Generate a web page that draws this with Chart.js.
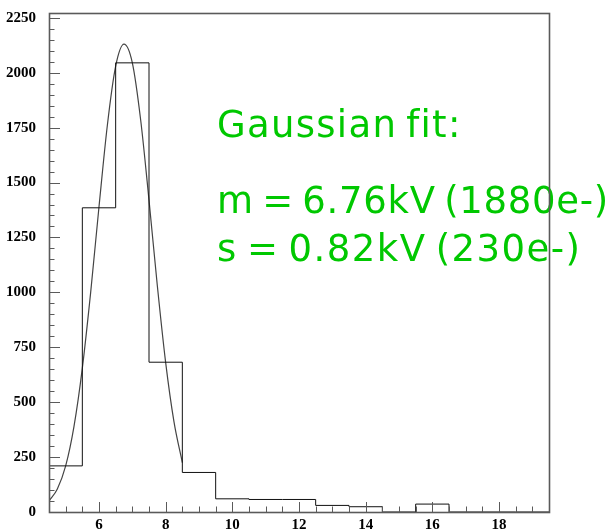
<!DOCTYPE html>
<html>
<head>
<meta charset="utf-8">
<script src="https://cdn.jsdelivr.net/npm/chart.js@4/dist/chart.umd.min.js"></script>
<style>
html,body{margin:0;padding:0;background:#fff;}
#wrap{width:610px;height:529px;position:relative;}
</style>
</head>
<body>
<div id="wrap"><canvas id="c" width="610" height="529"></canvas></div>
<script>
// Histogram bins (width 1), centres and counts
const binCenters = [5, 6, 7, 8, 9, 10, 11, 12, 13, 14, 15, 16, 17, 18, 19];
const binCounts  = [210, 1385, 2045, 682, 180, 60, 57, 57, 30, 24, 0, 36, 0, 0, 0];
// Gaussian fit curve
const fitX = [4.5, 4.75, 5.0, 5.25, 5.5, 5.75, 6.0, 6.25, 6.5, 6.75, 7.0, 7.25, 7.5, 7.75, 8.0, 8.25, 8.5];
const fitY = [50, 105, 210, 390, 655, 1000, 1390, 1760, 2030, 2130, 2045, 1785, 1420, 1030, 680, 410, 225];
// Axis ticks
const xTickLabels = [6, 8, 10, 12, 14, 16, 18];
const yTickLabels = [0, 250, 500, 750, 1000, 1250, 1500, 1750, 2000, 2250];
const annotationLines = ["Gaussian fit:", "m = 6.76kV (1880e-)", "s = 0.82kV (230e-)"];

const X_MIN = 4.5, X_MAX = 19.5, Y_MIN = 0, Y_MAX = 2272;

const histPoints = binCenters.map((c, i) => ({x: c - 0.5, y: binCounts[i]}));
histPoints.push({x: binCenters[binCenters.length - 1] + 0.5, y: 0});
const fitPoints = fitX.map((x, i) => ({x: x, y: fitY[i]}));

const frameColor = '#5a5a5a';

const overlay = {
  id: 'overlay',
  afterDatasetsDraw(chart) {
    const ctx = chart.ctx;
    const xs = chart.scales.x, ys = chart.scales.y;
    const a = chart.chartArea;
    // annotation text
    ctx.save();
    ctx.fillStyle = 'rgb(0,200,0)';
    ctx.font = '37px "DejaVu Sans"';
    ctx.textBaseline = 'alphabetic';
    ctx.textAlign = 'left';
    const bases = [136.5, 212.5, 260.5];
    const spacing = ['1.3px', '0.7px', '1.45px'];
    annotationLines.forEach((t, i) => {
      try { ctx.letterSpacing = spacing[i]; ctx.wordSpacing = '-4px'; } catch (e) {}
      ctx.fillText(t, 217, bases[i]);
    });
    ctx.restore();
    // ticks
    ctx.save();
    ctx.strokeStyle = frameColor;
    ctx.lineWidth = 1;
    ctx.beginPath();
    for (let v = 5; v <= 19.001; v += 0.5) {
      const px = Math.round(xs.getPixelForValue(v)) + 0.5;
      const major = xTickLabels.includes(v);
      ctx.moveTo(px, a.bottom);
      ctx.lineTo(px, a.bottom - (major ? 10 : 5.5));
    }
    for (let v = 50; v <= 2250; v += 50) {
      const py = Math.round(ys.getPixelForValue(v)) + 0.5;
      const major = yTickLabels.includes(v);
      ctx.moveTo(a.left, py);
      ctx.lineTo(a.left + (major ? 11 : 5.5), py);
    }
    ctx.stroke();
    // frame
    ctx.lineWidth = 1.6;
    ctx.strokeRect(a.left + 0.5, a.top + 0.5, a.right - a.left, a.bottom - a.top);
    ctx.restore();
  }
};

new Chart(document.getElementById('c'), {
  type: 'line',
  data: {
    datasets: [
      {
        label: 'hist',
        data: histPoints,
        stepped: 'before',
        borderColor: '#111',
        borderWidth: 1,
        pointRadius: 0,
        fill: false
      },
      {
        label: 'fit',
        data: fitPoints,
        cubicInterpolationMode: 'monotone',
        borderColor: '#444',
        borderWidth: 1.2,
        pointRadius: 0,
        fill: false
      }
    ]
  },
  options: {
    responsive: false,
    animation: false,
    events: [],
    layout: {padding: {left: 0, right: 61, top: 13, bottom: 0}},
    plugins: {legend: {display: false}, tooltip: {enabled: false}},
    scales: {
      x: {
        type: 'linear',
        min: X_MIN, max: X_MAX,
        afterBuildTicks(s) { s.ticks = xTickLabels.map(v => ({value: v})); },
        afterFit(s) { s.height = 17; s.paddingLeft = 0; s.paddingRight = 0; },
        grid: {display: false, drawTicks: false, tickLength: 0},
        border: {display: false},
        ticks: {
          padding: 4, maxRotation: 0, autoSkip: false,
          color: '#000',
          callback: v => String(v),
          font: {family: '"Liberation Serif"', size: 15, weight: 'bold'}
        }
      },
      y: {
        type: 'linear',
        min: Y_MIN, max: Y_MAX,
        afterBuildTicks(s) { s.ticks = yTickLabels.map(v => ({value: v})); },
        afterFit(s) { s.width = 49; s.paddingTop = 0; s.paddingBottom = 0; },
        grid: {display: false, drawTicks: false, tickLength: 0},
        border: {display: false},
        ticks: {
          padding: 13, autoSkip: false,
          color: '#000',
          callback: v => String(v),
          font: {family: '"Liberation Serif"', size: 15, weight: 'bold'}
        }
      }
    }
  },
  plugins: [overlay]
});
</script>
</body>
</html>
